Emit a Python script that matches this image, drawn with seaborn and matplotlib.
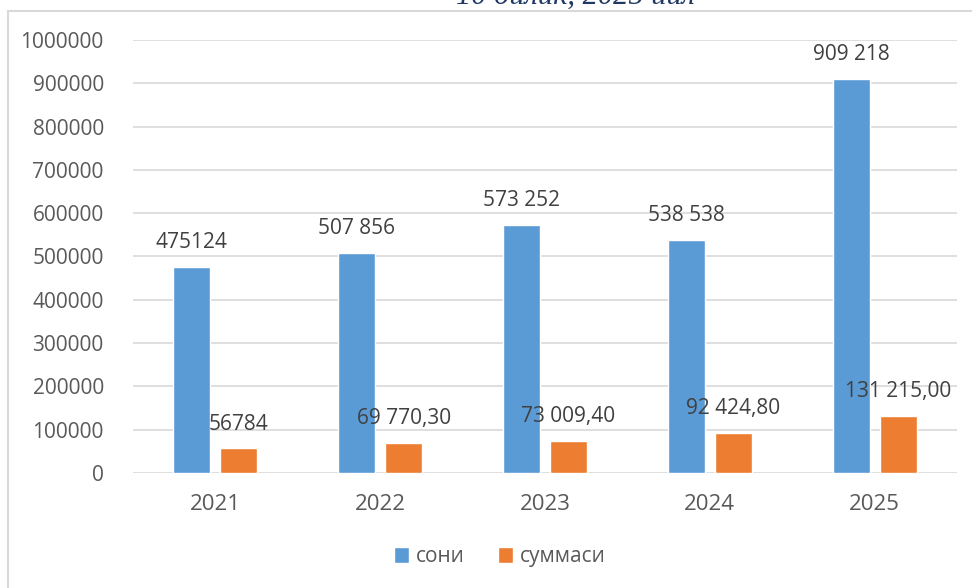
import pandas as pd
import matplotlib.pyplot as plt
import seaborn as sns
from matplotlib.patches import Rectangle, Patch

# data
years = ['2021', '2022', '2023', '2024', '2025']
soni = [475124, 507856, 573252, 538538, 909218]
summasi = [56784, 69770.30, 73009.40, 92424.80, 131215.00]
soni_labels = ['475124', '507 856', '573 252', '538 538', '909 218']
summasi_labels = ['56784', '69 770,30', '73 009,40', '92 424,80', '131 215,00']
series_names = ['сони', 'суммаси']
title = '10 ойлик, 2025 йил'

blue = '#5B9BD5'
orange = '#ED7D31'

df = pd.DataFrame({
    'year': years * 2,
    'value': soni + summasi,
    'series': [series_names[0]] * 5 + [series_names[1]] * 5,
})

sns.set_style('white')
plt.rcParams['font.family'] = ['Open Sans', 'DejaVu Sans']

fig = plt.figure(figsize=(9.72, 5.88), dpi=100)
ax = fig.add_axes([0.1368, 0.1956, 0.8478, 0.7364])

sns.barplot(data=df, x='year', y='value', hue='series', order=years,
            hue_order=series_names, palette=[blue, orange],
            width=0.57, gap=0.21, ax=ax, legend=False, saturation=1)

ax.set_ylim(0, 1000000)
ax.set_xlim(-0.5, 4.5)
ax.set_yticks(range(0, 1000001, 100000))
ax.set_yticklabels([str(v) for v in range(0, 1000001, 100000)])
ax.yaxis.grid(True, color='#D9D9D9', linewidth=1.2)
ax.set_axisbelow(True)
for s in ax.spines.values():
    s.set_visible(False)
ax.tick_params(axis='y', length=0, pad=21, labelsize=15, labelcolor='#595959')
ax.tick_params(axis='x', length=0, pad=15, labelsize=16, labelcolor='#595959')
ax.set_xlabel('')
ax.set_ylabel('')

ax.bar_label(ax.containers[0], labels=soni_labels, padding=10,
             fontsize=15, color='#404040')
ax.bar_label(ax.containers[1], labels=summasi_labels, padding=10,
             fontsize=15, color='#404040')

handles = [Patch(facecolor=blue), Patch(facecolor=orange)]
fig.legend(handles, series_names, loc='center', bbox_to_anchor=(0.514, 0.053),
           ncol=2, frameon=False, fontsize=15, handlelength=0.75,
           handleheight=0.75, handletextpad=0.3, columnspacing=1.6,
           labelcolor='#595959')

# outer chart frame, cut off on the right and bottom
fig.add_artist(Rectangle((8 / 972, -0.1), 1.2, 1 - 11 / 588 + 0.1,
                         transform=fig.transFigure, fill=False,
                         edgecolor='#D9D9D9', linewidth=1.5))

# title mostly cut off at top of the image, as in the reference
fig.text(0.592, 1 - 4 / 588, title, ha='center', va='baseline',
         fontsize=22, color='#1F3864', family='Liberation Serif',
         style='italic')

fig.savefig('out.png', dpi=100)
